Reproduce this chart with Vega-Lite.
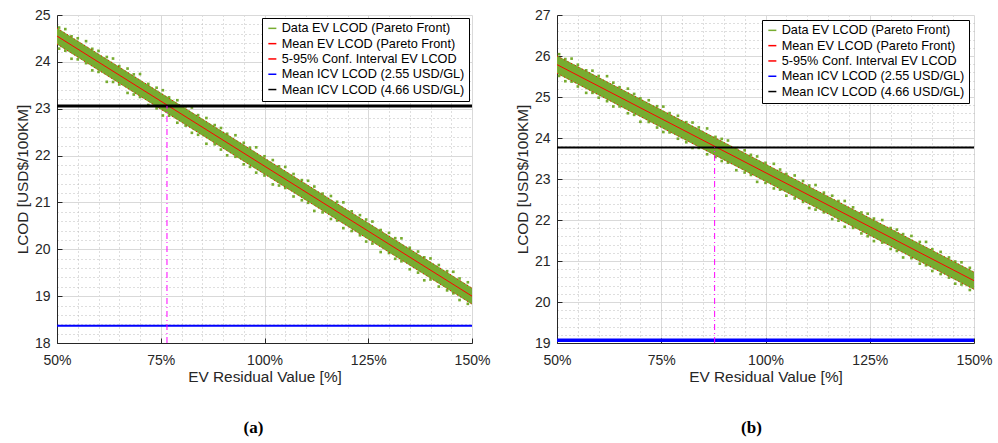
{
  "$schema": "https://vega.github.io/schema/vega-lite/v6.json",
  "padding": {"left": 15, "top": 8, "right": 5, "bottom": 5},
  "background": "white",
  "config": {
    "font": "Liberation Sans",
    "view": {"stroke": null},
    "axis": {
      "labelFont": "Liberation Sans", "labelColor": "#262626",
      "titleFont": "Liberation Sans", "titleFontSize": 15.4, "titleFontWeight": "normal", "titleColor": "#262626",
      "domainColor": "#262626", "domainWidth": 1, "tickColor": "#262626", "tickSize": -5, "tickWidth": 1,
      "labelFlush": false, "labelBound": false, "labelOverlap": false, "grid": true, "gridWidth": 1, "tickCount": 200
    },
    "axisX": {"labelPadding": 15.5, "titlePadding": 2},
    "axisY": {"labelPadding": 12, "titlePadding": 4},
    "legend": {
      "labelFont": "Liberation Sans", "labelFontSize": 12.7, "labelColor": "#000000", "labelLimit": 400,
      "strokeColor": "#000000", "fillColor": "#ffffff", "padding": 4, "rowPadding": 1.3,
      "symbolType": "stroke", "symbolSize": 64, "labelOffset": 3, "cornerRadius": 0
    },
    "title": {"font": "Liberation Serif", "fontWeight": "bold", "fontSize": 17, "color": "#000000"}
  },
  "datasets": {
    "band_a": [{"x": 50, "lo": 24.37, "hi": 24.73}, {"x": 100, "lo": 21.595, "hi": 21.955}, {"x": 150, "lo": 18.82, "hi": 19.18}],
    "mean_a": [{"x": 50, "y": 24.55}, {"x": 150, "y": 19.0}],
    "ci_a": [{"x": 50, "y": 24.72, "b": "u"}, {"x": 150, "y": 19.17, "b": "u"}, {"x": 50, "y": 24.38, "b": "l"}, {"x": 150, "y": 18.83, "b": "l"}],
    "blue_a": [{"y": 18.37}],
    "black_a": [{"y": 23.06}],
    "vline_a": [{"x": 76.5, "lo": 18, "hi": 23.06}],
    "pts_a": [
      {"x":50.5,"y":24.732},{"x":50.5,"y":24.282},{"x":52,"y":24.699},{"x":52,"y":24.239},
      {"x":53.5,"y":24.546},{"x":53.5,"y":24.066},{"x":55,"y":24.503},{"x":55,"y":24.053},
      {"x":57,"y":24.442},{"x":57,"y":23.972},{"x":58.5,"y":24.278},{"x":58.5,"y":23.818},
      {"x":60,"y":24.235},{"x":60,"y":23.785},{"x":62,"y":24.104},{"x":62,"y":23.574},
      {"x":63.5,"y":24.071},{"x":63.5,"y":23.571},{"x":65,"y":23.908},{"x":65,"y":23.518},
      {"x":67,"y":23.857},{"x":67,"y":23.337},{"x":68.5,"y":23.733},{"x":68.5,"y":23.303},
      {"x":70,"y":23.74},{"x":70,"y":23.25},{"x":72,"y":23.529},{"x":72,"y":23.079},
      {"x":74,"y":23.448},{"x":74,"y":23.008},{"x":75.5,"y":23.395},{"x":75.5,"y":22.855},
      {"x":77,"y":23.242},{"x":77,"y":22.852},{"x":79,"y":23.181},{"x":79,"y":22.701},
      {"x":81,"y":23.05},{"x":81,"y":22.64},{"x":82.5,"y":23.026},{"x":82.5,"y":22.486},
      {"x":84,"y":22.863},{"x":84,"y":22.443},{"x":86,"y":22.802},{"x":86,"y":22.252},
      {"x":88,"y":22.651},{"x":88,"y":22.241},{"x":89.5,"y":22.588},{"x":89.5,"y":22.128},
      {"x":91,"y":22.465},{"x":91,"y":22.005},{"x":93,"y":22.434},{"x":93,"y":21.974},
      {"x":95,"y":22.273},{"x":95,"y":21.813},{"x":96.5,"y":22.169},{"x":96.5,"y":21.759},
      {"x":98,"y":22.176},{"x":98,"y":21.636},{"x":100,"y":21.985},{"x":100,"y":21.575},
      {"x":102,"y":21.904},{"x":102,"y":21.384},{"x":103.5,"y":21.771},{"x":103.5,"y":21.361},
      {"x":105,"y":21.758},{"x":105,"y":21.308},{"x":107,"y":21.607},{"x":107,"y":21.127},
      {"x":109,"y":21.476},{"x":109,"y":21.046},{"x":110.5,"y":21.462},{"x":110.5,"y":20.992},
      {"x":112,"y":21.339},{"x":112,"y":20.819},{"x":114,"y":21.188},{"x":114,"y":20.788},
      {"x":116,"y":21.137},{"x":116,"y":20.647},{"x":117.5,"y":21.014},{"x":117.5,"y":20.614},
      {"x":119,"y":21.001},{"x":119,"y":20.451},{"x":121,"y":20.81},{"x":121,"y":20.39},
      {"x":123,"y":20.729},{"x":123,"y":20.299},{"x":124.5,"y":20.635},{"x":124.5,"y":20.165},
      {"x":126,"y":20.592},{"x":126,"y":20.122},{"x":128,"y":20.411},{"x":128,"y":19.941},
      {"x":130,"y":20.35},{"x":130,"y":19.92},{"x":131.5,"y":20.237},{"x":131.5,"y":19.797},
      {"x":133,"y":20.234},{"x":133,"y":19.744},{"x":135,"y":20.033},{"x":135,"y":19.573},
      {"x":137,"y":19.952},{"x":137,"y":19.502},{"x":138.5,"y":19.828},{"x":138.5,"y":19.338},
      {"x":140,"y":19.805},{"x":140,"y":19.355},{"x":142,"y":19.664},{"x":142,"y":19.204},
      {"x":144,"y":19.533},{"x":144,"y":19.123},{"x":145.5,"y":19.52},{"x":145.5,"y":19.06},
      {"x":147,"y":19.377},{"x":147,"y":18.917},{"x":149,"y":19.296},{"x":149,"y":18.836}
    ],
    "band_b": [{"x": 50, "lo": 25.57, "hi": 26.01}, {"x": 100, "lo": 22.935, "hi": 23.375}, {"x": 150, "lo": 20.3, "hi": 20.74}],
    "mean_b": [{"x": 50, "y": 25.79}, {"x": 150, "y": 20.52}],
    "ci_b": [{"x": 50, "y": 26.0, "b": "u"}, {"x": 150, "y": 20.73, "b": "u"}, {"x": 50, "y": 25.58, "b": "l"}, {"x": 150, "y": 20.31, "b": "l"}],
    "blue_b": [{"y": 19.07}],
    "black_b": [{"y": 23.77}],
    "vline_b": [{"x": 87.8, "lo": 19, "hi": 23.77}],
    "pts_b": [
      {"x":50.5,"y":26.044},{"x":50.5,"y":25.514},{"x":52,"y":25.925},{"x":52,"y":25.385},
      {"x":53.5,"y":25.936},{"x":53.5,"y":25.376},{"x":55,"y":25.787},{"x":55,"y":25.257},
      {"x":57,"y":25.651},{"x":57,"y":25.101},{"x":58.5,"y":25.642},{"x":58.5,"y":25.102},
      {"x":60,"y":25.513},{"x":60,"y":24.983},{"x":62,"y":25.508},{"x":62,"y":24.898},
      {"x":63.5,"y":25.349},{"x":63.5,"y":24.769},{"x":65,"y":25.24},{"x":65,"y":24.77},
      {"x":67,"y":25.204},{"x":67,"y":24.604},{"x":68.5,"y":25.075},{"x":68.5,"y":24.565},
      {"x":70,"y":24.966},{"x":70,"y":24.396},{"x":72,"y":24.921},{"x":72,"y":24.391},
      {"x":74,"y":24.775},{"x":74,"y":24.255},{"x":75.5,"y":24.766},{"x":75.5,"y":24.146},
      {"x":77,"y":24.607},{"x":77,"y":24.137},{"x":79,"y":24.542},{"x":79,"y":23.982},
      {"x":81,"y":24.386},{"x":81,"y":23.896},{"x":82.5,"y":24.377},{"x":82.5,"y":23.757},
      {"x":84,"y":24.258},{"x":84,"y":23.758},{"x":86,"y":24.233},{"x":86,"y":23.603},
      {"x":88,"y":24.027},{"x":88,"y":23.537},{"x":89.5,"y":23.978},{"x":89.5,"y":23.438},
      {"x":91,"y":23.939},{"x":91,"y":23.399},{"x":93,"y":23.754},{"x":93,"y":23.214},
      {"x":95,"y":23.699},{"x":95,"y":23.159},{"x":96.5,"y":23.589},{"x":96.5,"y":23.099},
      {"x":98,"y":23.55},{"x":98,"y":22.93},{"x":100,"y":23.395},{"x":100,"y":22.905},
      {"x":102,"y":23.37},{"x":102,"y":22.77},{"x":103.5,"y":23.231},{"x":103.5,"y":22.741},
      {"x":105,"y":23.122},{"x":105,"y":22.592},{"x":107,"y":23.086},{"x":107,"y":22.526},
      {"x":109,"y":22.951},{"x":109,"y":22.441},{"x":110.5,"y":22.842},{"x":110.5,"y":22.292},
      {"x":112,"y":22.853},{"x":112,"y":22.253},{"x":114,"y":22.667},{"x":114,"y":22.187},
      {"x":116,"y":22.592},{"x":116,"y":22.022},{"x":117.5,"y":22.463},{"x":117.5,"y":21.983},
      {"x":119,"y":22.464},{"x":119,"y":21.834},{"x":121,"y":22.308},{"x":121,"y":21.808},
      {"x":123,"y":22.183},{"x":123,"y":21.673},{"x":124.5,"y":22.154},{"x":124.5,"y":21.604},
      {"x":126,"y":22.035},{"x":126,"y":21.485},{"x":128,"y":21.999},{"x":128,"y":21.449},
      {"x":130,"y":21.804},{"x":130,"y":21.294},{"x":131.5,"y":21.765},{"x":131.5,"y":21.245},
      {"x":133,"y":21.656},{"x":133,"y":21.086},{"x":135,"y":21.611},{"x":135,"y":21.071},
      {"x":137,"y":21.465},{"x":137,"y":20.935},{"x":138.5,"y":21.466},{"x":138.5,"y":20.896},
      {"x":140,"y":21.287},{"x":140,"y":20.757},{"x":142,"y":21.222},{"x":142,"y":20.682},
      {"x":144,"y":21.086},{"x":144,"y":20.596},{"x":145.5,"y":20.987},{"x":145.5,"y":20.447},
      {"x":147,"y":20.968},{"x":147,"y":20.428},{"x":149,"y":20.833},{"x":149,"y":20.293}
    ]
  },
  "spacing": 85,
  "bounds": "flush",
  "resolve": {"scale": {"color": "independent"}, "legend": {"color": "independent"}},
  "hconcat": [
    {
      "width": 415, "height": 328,
      "title": {"text": "(a)", "orient": "bottom", "anchor": "middle", "offset": 35, "dx": -11},
      "layer": [
        {
          "data": {"name": "band_a"},
          "mark": {"type": "area", "opacity": 1},
          "encoding": {
            "x": {"field": "x", "type": "quantitative",
              "scale": {"domain": [50, 150], "nice": false, "zero": false},
              "axis": {"title": "EV Residual Value [%]", "tickCount": 200,
                "values": [50,55,60,65,70,75,80,85,90,95,100,105,110,115,120,125,130,135,140,145,150],
                "labelExpr": "datum.value % 25 === 0 ? datum.value + '%' : ''",
                "labelFontSize": {"condition": {"test": "datum.value % 25 === 0", "value": 14}, "value": 0},
                "gridColor": {"condition": {"test": "datum.value % 25 === 0", "value": "#d9d9d9"}, "value": "#bdbdbd"},
                "gridDash": {"condition": {"test": "datum.value % 25 === 0", "value": []}, "value": [1, 3]},
                "tickOpacity": {"condition": {"test": "datum.value % 25 === 0", "value": 1}, "value": 0}}},
            "y": {"field": "lo", "type": "quantitative",
              "scale": {"domain": [18, 25], "nice": false, "zero": false},
              "axis": {"title": "LCOD [USD$/100KM]", "tickCount": 200,
                "values": [18,18.2,18.4,18.6,18.8,19,19.2,19.4,19.6,19.8,20,20.2,20.4,20.6,20.8,21,21.2,21.4,21.6,21.8,22,22.2,22.4,22.6,22.8,23,23.2,23.4,23.6,23.8,24,24.2,24.4,24.6,24.8,25],
                "labelExpr": "abs(datum.value - round(datum.value)) < 0.01 ? '' + round(datum.value) : ''",
                "labelFontSize": {"condition": {"test": "abs(datum.value - round(datum.value)) < 0.01", "value": 14}, "value": 0},
                "gridColor": {"condition": {"test": "abs(datum.value - round(datum.value)) < 0.01", "value": "#d9d9d9"}, "value": "#bdbdbd"},
                "gridDash": {"condition": {"test": "abs(datum.value - round(datum.value)) < 0.01", "value": []}, "value": [1, 3]},
                "tickOpacity": {"condition": {"test": "abs(datum.value - round(datum.value)) < 0.01", "value": 1}, "value": 0}}},
            "y2": {"field": "hi"},
            "color": {"datum": "Data EV LCOD (Pareto Front)", "type": "nominal",
              "scale": {"domain": ["Data EV LCOD (Pareto Front)", "Mean EV LCOD (Pareto Front)", "5-95% Conf. Interval EV LCOD", "Mean ICV LCOD (2.55 USD/GL)", "Mean ICV LCOD (4.66 USD/GL)"],
                "range": ["#77AC30", "#FF0000", "#FF0000", "#0000FF", "#000000"]},
              "legend": {"title": null, "orient": "none", "legendX": 205, "legendY": 3,
                "encode": {"symbols": {"update": {
                  "shape": {"value": "stroke"},
                  "fill": {"value": "transparent"},
                  "strokeWidth": {"value": 1.3},
                  "opacity": {"value": 1},
                  "stroke": {"signal": "datum.value == 'Data EV LCOD (Pareto Front)' ? 'transparent' : datum.value == 'Mean ICV LCOD (2.55 USD/GL)' ? '#0000FF' : datum.value == 'Mean ICV LCOD (4.66 USD/GL)' ? '#000000' : '#FF0000'"},
                  "strokeDash": {"signal": "datum.value == '5-95% Conf. Interval EV LCOD' ? [1, 2] : [1, 0]"}}}}}}
          }
        },
        {
          "data": {"name": "pts_a"},
          "mark": {"type": "square", "size": 7, "opacity": 1},
          "encoding": {
            "x": {"field": "x", "type": "quantitative"},
            "y": {"field": "y", "type": "quantitative"},
            "color": {"datum": "Data EV LCOD (Pareto Front)", "type": "nominal"}
          }
        },
        {
          "data": {"name": "ci_a"},
          "mark": {"type": "line", "strokeWidth": 1, "strokeDash": [1, 3]},
          "encoding": {
            "x": {"field": "x", "type": "quantitative"},
            "y": {"field": "y", "type": "quantitative"},
            "detail": {"field": "b"},
            "color": {"datum": "5-95% Conf. Interval EV LCOD", "type": "nominal"}
          }
        },
        {
          "data": {"name": "mean_a"},
          "mark": {"type": "line", "strokeWidth": 1},
          "encoding": {
            "x": {"field": "x", "type": "quantitative"},
            "y": {"field": "y", "type": "quantitative"},
            "color": {"datum": "Mean EV LCOD (Pareto Front)", "type": "nominal"}
          }
        },
        {
          "data": {"name": "blue_a"},
          "mark": {"type": "rule", "strokeWidth": 2},
          "encoding": {
            "y": {"field": "y", "type": "quantitative"},
            "color": {"datum": "Mean ICV LCOD (2.55 USD/GL)", "type": "nominal"}
          }
        },
        {
          "data": {"name": "black_a"},
          "mark": {"type": "rule", "strokeWidth": 3},
          "encoding": {
            "y": {"field": "y", "type": "quantitative"},
            "color": {"datum": "Mean ICV LCOD (4.66 USD/GL)", "type": "nominal"}
          }
        },
        {
          "data": {"name": "vline_a"},
          "mark": {"type": "rule", "strokeWidth": 1, "color": "#FF00FF", "strokeDash": [6, 3, 1, 3]},
          "encoding": {
            "x": {"field": "x", "type": "quantitative"},
            "y": {"field": "lo", "type": "quantitative"},
            "y2": {"field": "hi"}
          }
        }
      ]
    },
    {
      "width": 417, "height": 328,
      "title": {"text": "(b)", "orient": "bottom", "anchor": "middle", "offset": 35, "dx": -14},
      "layer": [
        {
          "data": {"name": "band_b"},
          "mark": {"type": "area", "opacity": 1},
          "encoding": {
            "x": {"field": "x", "type": "quantitative",
              "scale": {"domain": [50, 150], "nice": false, "zero": false},
              "axis": {"title": "EV Residual Value [%]", "tickCount": 200,
                "values": [50,55,60,65,70,75,80,85,90,95,100,105,110,115,120,125,130,135,140,145,150],
                "labelExpr": "datum.value % 25 === 0 ? datum.value + '%' : ''",
                "labelFontSize": {"condition": {"test": "datum.value % 25 === 0", "value": 14}, "value": 0},
                "gridColor": {"condition": {"test": "datum.value % 25 === 0", "value": "#d9d9d9"}, "value": "#bdbdbd"},
                "gridDash": {"condition": {"test": "datum.value % 25 === 0", "value": []}, "value": [1, 3]},
                "tickOpacity": {"condition": {"test": "datum.value % 25 === 0", "value": 1}, "value": 0}}},
            "y": {"field": "lo", "type": "quantitative",
              "scale": {"domain": [19, 27], "nice": false, "zero": false},
              "axis": {"title": "LCOD [USD$/100KM]", "tickCount": 200,
                "values": [19,19.2,19.4,19.6,19.8,20,20.2,20.4,20.6,20.8,21,21.2,21.4,21.6,21.8,22,22.2,22.4,22.6,22.8,23,23.2,23.4,23.6,23.8,24,24.2,24.4,24.6,24.8,25,25.2,25.4,25.6,25.8,26,26.2,26.4,26.6,26.8,27],
                "labelExpr": "abs(datum.value - round(datum.value)) < 0.01 ? '' + round(datum.value) : ''",
                "labelFontSize": {"condition": {"test": "abs(datum.value - round(datum.value)) < 0.01", "value": 14}, "value": 0},
                "gridColor": {"condition": {"test": "abs(datum.value - round(datum.value)) < 0.01", "value": "#d9d9d9"}, "value": "#bdbdbd"},
                "gridDash": {"condition": {"test": "abs(datum.value - round(datum.value)) < 0.01", "value": []}, "value": [1, 3]},
                "tickOpacity": {"condition": {"test": "abs(datum.value - round(datum.value)) < 0.01", "value": 1}, "value": 0}}},
            "y2": {"field": "hi"},
            "color": {"datum": "Data EV LCOD (Pareto Front)", "type": "nominal",
              "scale": {"domain": ["Data EV LCOD (Pareto Front)", "Mean EV LCOD (Pareto Front)", "5-95% Conf. Interval EV LCOD", "Mean ICV LCOD (2.55 USD/GL)", "Mean ICV LCOD (4.66 USD/GL)"],
                "range": ["#77AC30", "#FF0000", "#FF0000", "#0000FF", "#000000"]},
              "legend": {"title": null, "orient": "none", "legendX": 205, "legendY": 5,
                "encode": {"symbols": {"update": {
                  "shape": {"value": "stroke"},
                  "fill": {"value": "transparent"},
                  "strokeWidth": {"value": 1.3},
                  "opacity": {"value": 1},
                  "stroke": {"signal": "datum.value == 'Data EV LCOD (Pareto Front)' ? 'transparent' : datum.value == 'Mean ICV LCOD (2.55 USD/GL)' ? '#0000FF' : datum.value == 'Mean ICV LCOD (4.66 USD/GL)' ? '#000000' : '#FF0000'"},
                  "strokeDash": {"signal": "datum.value == '5-95% Conf. Interval EV LCOD' ? [1, 2] : [1, 0]"}}}}}}
          }
        },
        {
          "data": {"name": "pts_b"},
          "mark": {"type": "square", "size": 7, "opacity": 1},
          "encoding": {
            "x": {"field": "x", "type": "quantitative"},
            "y": {"field": "y", "type": "quantitative"},
            "color": {"datum": "Data EV LCOD (Pareto Front)", "type": "nominal"}
          }
        },
        {
          "data": {"name": "ci_b"},
          "mark": {"type": "line", "strokeWidth": 1, "strokeDash": [1, 3]},
          "encoding": {
            "x": {"field": "x", "type": "quantitative"},
            "y": {"field": "y", "type": "quantitative"},
            "detail": {"field": "b"},
            "color": {"datum": "5-95% Conf. Interval EV LCOD", "type": "nominal"}
          }
        },
        {
          "data": {"name": "mean_b"},
          "mark": {"type": "line", "strokeWidth": 1},
          "encoding": {
            "x": {"field": "x", "type": "quantitative"},
            "y": {"field": "y", "type": "quantitative"},
            "color": {"datum": "Mean EV LCOD (Pareto Front)", "type": "nominal"}
          }
        },
        {
          "data": {"name": "blue_b"},
          "mark": {"type": "rule", "strokeWidth": 3.5},
          "encoding": {
            "y": {"field": "y", "type": "quantitative"},
            "color": {"datum": "Mean ICV LCOD (2.55 USD/GL)", "type": "nominal"}
          }
        },
        {
          "data": {"name": "black_b"},
          "mark": {"type": "rule", "strokeWidth": 2},
          "encoding": {
            "y": {"field": "y", "type": "quantitative"},
            "color": {"datum": "Mean ICV LCOD (4.66 USD/GL)", "type": "nominal"}
          }
        },
        {
          "data": {"name": "vline_b"},
          "mark": {"type": "rule", "strokeWidth": 1, "color": "#FF00FF", "strokeDash": [6, 3, 1, 3]},
          "encoding": {
            "x": {"field": "x", "type": "quantitative"},
            "y": {"field": "lo", "type": "quantitative"},
            "y2": {"field": "hi"}
          }
        }
      ]
    }
  ]
}
